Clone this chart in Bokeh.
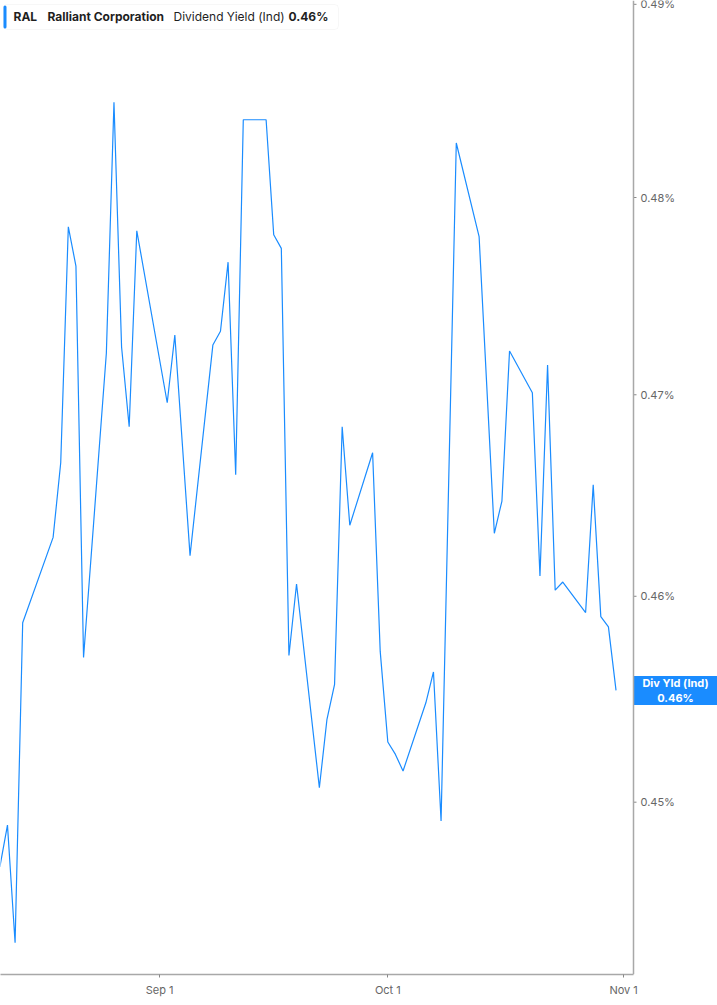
import pandas as pd
from bokeh.plotting import figure
from bokeh.models import (Range1d, FixedTicker, DatetimeTickFormatter, Label,
                          BoxAnnotation, Span)
from bokeh.core.properties import value
from bokeh.embed import file_html
from bokeh.resources import INLINE

# daily dividend yield (%)
dates = [
    "2025-08-11", "2025-08-12", "2025-08-13", "2025-08-14", "2025-08-18",
    "2025-08-19", "2025-08-20", "2025-08-21", "2025-08-22", "2025-08-25",
    "2025-08-26", "2025-08-27", "2025-08-28", "2025-08-29", "2025-09-02",
    "2025-09-03", "2025-09-05", "2025-09-08", "2025-09-09", "2025-09-10",
    "2025-09-11", "2025-09-12", "2025-09-15", "2025-09-16", "2025-09-17",
    "2025-09-18", "2025-09-19", "2025-09-22", "2025-09-23", "2025-09-24",
    "2025-09-25", "2025-09-26", "2025-09-29", "2025-09-30", "2025-10-01",
    "2025-10-02", "2025-10-03", "2025-10-06", "2025-10-07", "2025-10-08",
    "2025-10-10", "2025-10-13", "2025-10-15", "2025-10-16", "2025-10-17",
    "2025-10-20", "2025-10-21", "2025-10-22", "2025-10-23", "2025-10-24",
    "2025-10-27", "2025-10-28", "2025-10-29", "2025-10-30", "2025-10-31",
]
div_yield = [
    0.4469, 0.4489, 0.4433, 0.4587, 0.4629,
    0.4666, 0.4785, 0.4765, 0.4570, 0.4721,
    0.4849, 0.4724, 0.4684, 0.4783, 0.4696,
    0.4730, 0.4620, 0.4725, 0.4732, 0.4767,
    0.4660, 0.4840, 0.4840, 0.4781, 0.4774,
    0.4571, 0.4606, 0.4507, 0.4540, 0.4557,
    0.4684, 0.4635, 0.4671, 0.4573, 0.4529,
    0.4523, 0.4515, 0.4548, 0.4563, 0.4491,
    0.4828, 0.4780, 0.4631, 0.4647, 0.4722,
    0.4701, 0.4610, 0.4715, 0.4603, 0.4607,
    0.4592, 0.4655, 0.4590, 0.4585, 0.4554,
]
y_ticks = [0.45, 0.46, 0.47, 0.48, 0.49]
x_ticks = ["2025-09-01", "2025-10-01", "2025-11-01"]

symbol = "RAL"
company = "Ralliant Corporation"
metric = "Dividend Yield (Ind)"
badge_name = "Div Yld (Ind)"

BLUE = "#1a8cff"
AXIS = "#a8a8a8"
LABEL = "#666666"
FONT = "Inter"

W, H = 717, 999
AXIS_PX = 633          # where the value axis sits
DAY_PX = 7.607         # horizontal pixels per calendar day

def ms(ts):
    return pd.Timestamp(ts).value / 1e6

x_start = pd.Timestamp("2025-08-11 02:00")
x_axis_at = x_start + pd.Timedelta(days=AXIS_PX / DAY_PX)
x_end = x_start + pd.Timedelta(days=W / DAY_PX)
badge_x = x_start + pd.Timedelta(days=(AXIS_PX + (W - AXIS_PX) / 2) / DAY_PX)

x = pd.to_datetime(dates)
last = div_yield[-1]

p = figure(
    width=W, height=H,
    x_axis_type="datetime", y_axis_type="log", y_axis_location=None,
    x_range=Range1d(ms(x_start), ms(x_end)),
    y_range=Range1d(0.4418, 0.4902),
    toolbar_location=None, output_backend="svg",
    min_border_left=0, min_border_top=0, min_border_right=0, min_border_bottom=24,
)
p.outline_line_color = None
p.grid.visible = False

p.line(x, div_yield, line_color=BLUE, line_width=1.2)

# time axis
xa = p.xaxis[0]
xa.ticker = FixedTicker(ticks=[ms(d) for d in x_ticks])
xa.formatter = DatetimeTickFormatter(days="%b %-d", months="%b %-d")
xa.bounds = (ms(x_start), ms(x_axis_at))
xa.axis_line_color = AXIS
xa.axis_line_width = 1.5
xa.major_tick_line_color = "#888888"
xa.major_tick_out = 3
xa.major_tick_in = 0
xa.minor_tick_out = 0
xa.minor_tick_in = 0
xa.major_label_text_color = LABEL
xa.major_label_text_font = FONT
xa.major_label_text_font_size = "11px"
xa.major_label_standoff = 5

# value axis on the right, inside the canvas so the badge can overlap it
p.add_layout(Span(location=ms(x_axis_at), dimension="height",
                  line_color=AXIS, line_width=1.5))
n = len(y_ticks)
p.ray(x=[ms(x_axis_at)] * n, y=y_ticks, length=3, length_units="screen",
      angle=0, line_color="#888888", line_width=1)
p.text(x=[ms(x_axis_at)] * n, y=y_ticks, text=[f"{v:.2f}%" for v in y_ticks],
       x_offset=7, text_baseline="middle", text_align="left",
       text_font=value(FONT), text_font_size="11px", text_color=LABEL)

# last-value badge
p.rect(x=[ms(badge_x)], y=[last], width=W - AXIS_PX, height=29,
       width_units="screen", height_units="screen",
       fill_color=BLUE, line_color=None)
p.text(x=[ms(badge_x)], y=[last], text=[f"{badge_name}\n{last:.2f}%"],
       text_align="center", text_baseline="middle", text_line_height=1.1,
       text_font=value(FONT), text_font_size="11px", text_font_style="bold",
       text_color="white")

# legend header box
frame_h = H - 24
box = BoxAnnotation(left=3, right=338, top=frame_h - 5, bottom=frame_h - 30,
                    left_units="screen", right_units="screen",
                    top_units="screen", bottom_units="screen",
                    fill_color="white", fill_alpha=1, line_color="#e4e4e4",
                    line_width=1, border_radius=4)
bar = BoxAnnotation(left=3, right=6, top=frame_h - 6, bottom=frame_h - 29,
                    left_units="screen", right_units="screen",
                    top_units="screen", bottom_units="screen",
                    fill_color=BLUE, fill_alpha=1, line_color=None, border_radius=2)
p.add_layout(box)
p.add_layout(bar)

parts = [(13, symbol, "bold"), (47, company, "bold"),
         (173, metric, "normal"), (288, f"{last:.2f}%", "bold")]
for px, txt, style in parts:
    p.add_layout(Label(x=px, y=frame_h - 17, x_units="screen", y_units="screen",
                       text=txt, text_font=FONT, text_font_size="12px",
                       text_font_style=style, text_color="#1f1f1f",
                       text_baseline="middle"))

open("out.html", "w").write(file_html(p, INLINE))
